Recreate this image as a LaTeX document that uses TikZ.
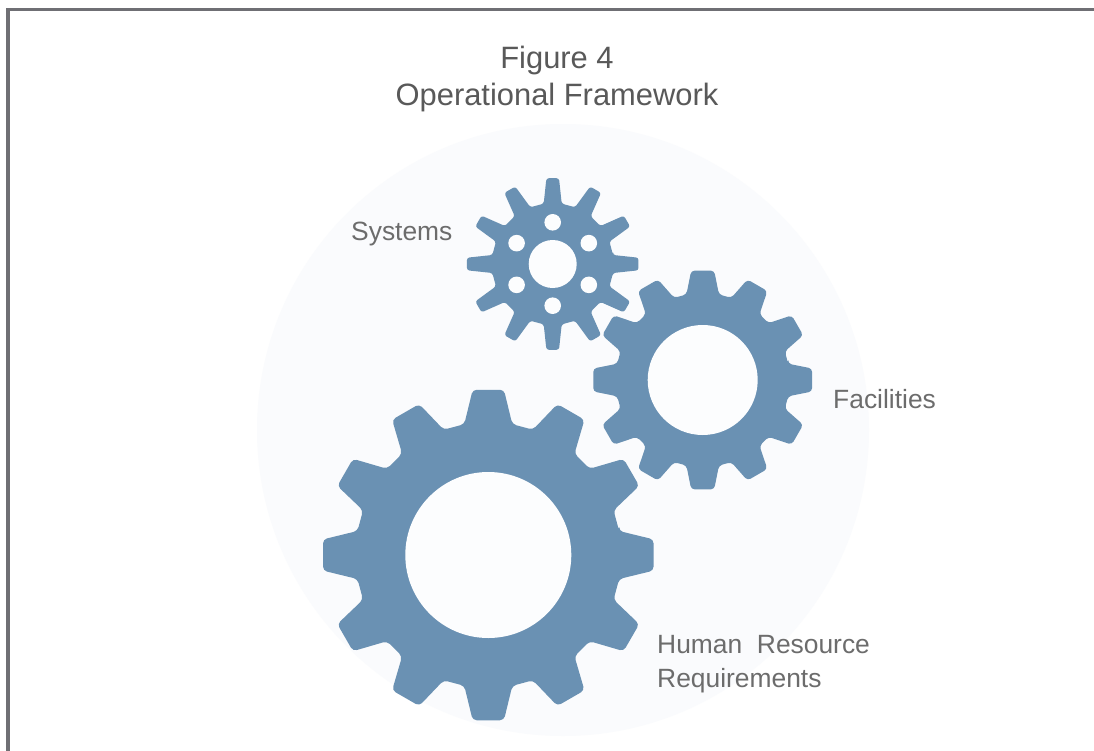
\documentclass[tikz,border=0pt]{standalone}
\usepackage{fontspec}
\setmainfont{Liberation Sans}
\definecolor{gearblue}{HTML}{6A91B3}
\definecolor{framegray}{HTML}{6F6F74}
\definecolor{titlegray}{HTML}{595959}
\definecolor{labelgray}{HTML}{6C6C6C}
\definecolor{discfill}{HTML}{FAFBFD}
\definecolor{holefill}{HTML}{FCFDFE}
\newcommand{\gearshape}[8]{%
  % cx, cy, outer radius, root radius, tip half-angle, base half-angle, hole radius, corner radius
  \begin{scope}[shift={(#1,#2)}]
    \fill[gearblue,rounded corners=#8] (0-#6:#4)
      \foreach \ga in {0,30,...,330}{
        -- (\ga-#6:#4) -- (\ga-#5:#3) -- (\ga+#5:#3) -- (\ga+#6:#4)
      } -- cycle;
    \fill[holefill] (0,0) circle (#7);
  \end{scope}%
}
\tikzset{
  titletext/.style={text=titlegray,font=\fontsize{31}{36}\selectfont,anchor=base,inner sep=0pt},
  labeltext/.style={text=labelgray,font=\fontsize{26.5}{30}\selectfont,anchor=base west,inner sep=0pt}
}
\begin{document}
\begin{tikzpicture}[x=1bp,y=-1bp]
  \useasboundingbox (0,0) rectangle (1094,751);
  \fill[white] (0,0) rectangle (1094,751);
  % frame: runs off the right and bottom edges
  \fill[framegray] (6,8) rectangle (1094,11.5);
  \fill[framegray] (6,8) rectangle (9.5,751);
  % pale disc, clipped by the page
  \begin{scope}
    \clip (9.5,11.5) rectangle (1094,751);
    \fill[discfill] (563,430) circle (306);
  \end{scope}
  \gearshape{488.3}{555}{166}{133}{5.4}{10.4}{83}{4bp}
  \gearshape{702.7}{380}{110}{87}{6}{10.8}{55}{3.5bp}
  \gearshape{552.7}{264}{86}{61}{4.2}{8.5}{24}{2.5bp}
  \foreach \ha in {30,90,...,330}{
    \fill[holefill] (552.7,264) ++(\ha:41.7) circle (8.3);
  }
  \node[titletext] (fig) at (557,69) {Figure 4};
  \node[titletext] (op) at (557,106) {Operational Framework};
  \node[labeltext] (sys) at (351,240) {Systems};
  \node[labeltext] (fac) at (833,408) {Facilities};
  \node[labeltext] (hr) at (657,653) {Human\ \ Resource};
  \node[labeltext] (req) at (657,687) {Requirements};
\end{tikzpicture}
\end{document}
